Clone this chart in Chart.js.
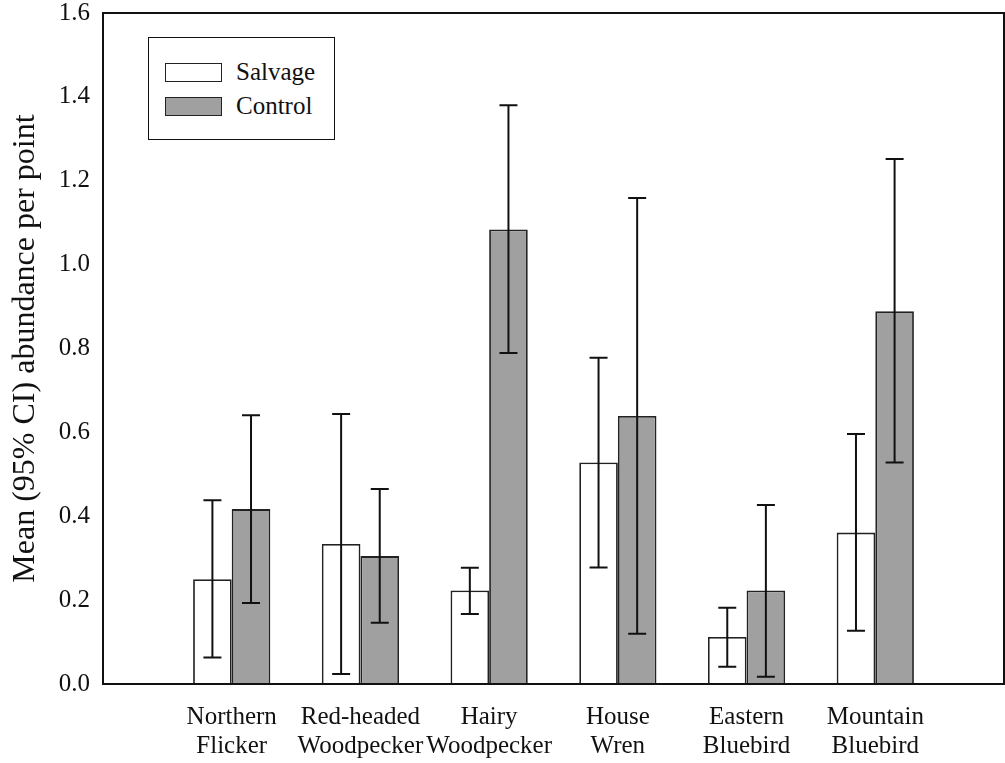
<!DOCTYPE html>
<html>
<head>
<meta charset="utf-8">
<script src="https://cdn.jsdelivr.net/npm/chart.js@4.4.1/dist/chart.umd.min.js"></script>
<style>
  body { margin: 0; background: #fff; }
  #wrap { position: relative; width: 1005px; height: 763px; }
  #legend {
    position: absolute; left: 148px; top: 37px; width: 185px; height: 101px;
    border: 1.5px solid #111; background: #fff;
    font-family: "Liberation Serif", "Times New Roman", serif; font-size: 25px; color: #111;
  }
  .item { position: absolute; left: 16px; height: 20px; display: flex; align-items: center; }
  .sw { width: 55px; height: 17px; border: 1.5px solid #222; margin-right: 14px; }
</style>
</head>
<body>
<div id="wrap">
  <canvas id="chart" width="1005" height="763"></canvas>
  <div id="legend"></div>
</div>
<script>
const categories = [
  ["Northern", "Flicker"],
  ["Red-headed", "Woodpecker"],
  ["Hairy", "Woodpecker"],
  ["House", "Wren"],
  ["Eastern", "Bluebird"],
  ["Mountain", "Bluebird"]
];
const seriesNames = ["Salvage", "Control"];
const salvageMean = [0.250, 0.334, 0.223, 0.528, 0.112, 0.361];
const salvageLow  = [0.063, 0.024, 0.167, 0.278, 0.041, 0.127];
const salvageHigh = [0.438, 0.644, 0.277, 0.778, 0.182, 0.596];
const controlMean = [0.417, 0.305, 1.084, 0.639, 0.223, 0.889];
const controlLow  = [0.193, 0.146, 0.789, 0.120, 0.017, 0.528];
const controlHigh = [0.641, 0.465, 1.380, 1.159, 0.427, 1.252];
const yMin = 0, yMax = 1.6, yStep = 0.2;

const FONT = "'Liberation Serif', 'Times New Roman', serif";
const colors = ["#ffffff", "#a0a0a0"];

// empty slot at each end so the groups sit at 1..6 of 0..7
const pad = arr => [null, ...arr, null];
const labels = ["", ...categories, ""];
const errors = [
  { low: pad(salvageLow), high: pad(salvageHigh) },
  { low: pad(controlLow), high: pad(controlHigh) }
];

// legend
const legendEl = document.getElementById("legend");
seriesNames.forEach((name, i) => {
  const item = document.createElement("div");
  item.className = "item";
  item.style.top = (24 + i * 34) + "px";
  item.innerHTML = `<span class="sw" style="background:${colors[i]}"></span><span>${name}</span>`;
  legendEl.appendChild(item);
});

const framePlugin = {
  id: "frame",
  afterDraw(chart) {
    const { ctx, chartArea: a } = chart;
    ctx.save();
    ctx.strokeStyle = "#111";
    ctx.lineWidth = 2;
    ctx.strokeRect(a.left, a.top, a.right - a.left, a.bottom - a.top);
    ctx.restore();
  }
};

const errorBarPlugin = {
  id: "errorBars",
  afterDatasetsDraw(chart) {
    const { ctx } = chart;
    const y = chart.scales.y;
    ctx.save();
    ctx.strokeStyle = "#111";
    ctx.lineWidth = 2;
    chart.data.datasets.forEach((ds, i) => {
      const meta = chart.getDatasetMeta(i);
      meta.data.forEach((bar, j) => {
        const lo = errors[i].low[j], hi = errors[i].high[j];
        if (lo == null || hi == null) return;
        const x = bar.x;
        const yl = y.getPixelForValue(lo), yh = y.getPixelForValue(hi);
        ctx.beginPath();
        ctx.moveTo(x, yl); ctx.lineTo(x, yh);
        ctx.moveTo(x - 9, yl); ctx.lineTo(x + 9, yl);
        ctx.moveTo(x - 9, yh); ctx.lineTo(x + 9, yh);
        ctx.stroke();
      });
    });
    ctx.restore();
  }
};

new Chart(document.getElementById("chart"), {
  type: "bar",
  data: {
    labels,
    datasets: [
      { label: seriesNames[0], data: pad(salvageMean), backgroundColor: colors[0], borderColor: "#222", borderWidth: 1.8 },
      { label: seriesNames[1], data: pad(controlMean), backgroundColor: colors[1], borderColor: "#222", borderWidth: 1.8 }
    ]
  },
  options: {
    responsive: false,
    animation: false,
    layout: { padding: { top: 13, right: 1, left: 0, bottom: 0 } },
    plugins: { legend: { display: false }, tooltip: { enabled: false } },
    datasets: { bar: { categoryPercentage: 0.6, barPercentage: 1.0 } },
    scales: {
      x: {
        offset: false,
        grid: { display: false, drawTicks: false },
        border: { display: false },
        ticks: { color: "#111", font: { family: FONT, size: 25, lineHeight: 1.16 }, padding: 19, maxRotation: 0, autoSkip: false },
        afterFit(scale) { scale.height = 79; scale.paddingLeft = 0; scale.paddingRight = 0; }
      },
      y: {
        min: yMin, max: yMax,
        grid: { display: false, drawTicks: false },
        border: { display: false },
        ticks: {
          stepSize: yStep, color: "#111", font: { family: FONT, size: 25 }, padding: 13,
          callback: v => v.toFixed(1)
        },
        title: {
          display: true, text: "Mean (95% CI) abundance per point",
          color: "#111", font: { family: FONT, size: 32 }, padding: { top: 6, bottom: 0 }
        },
        afterFit(scale) { scale.width = 103; scale.paddingTop = 0; scale.paddingBottom = 0; }
      }
    }
  },
  plugins: [framePlugin, errorBarPlugin]
});
</script>
</body>
</html>
